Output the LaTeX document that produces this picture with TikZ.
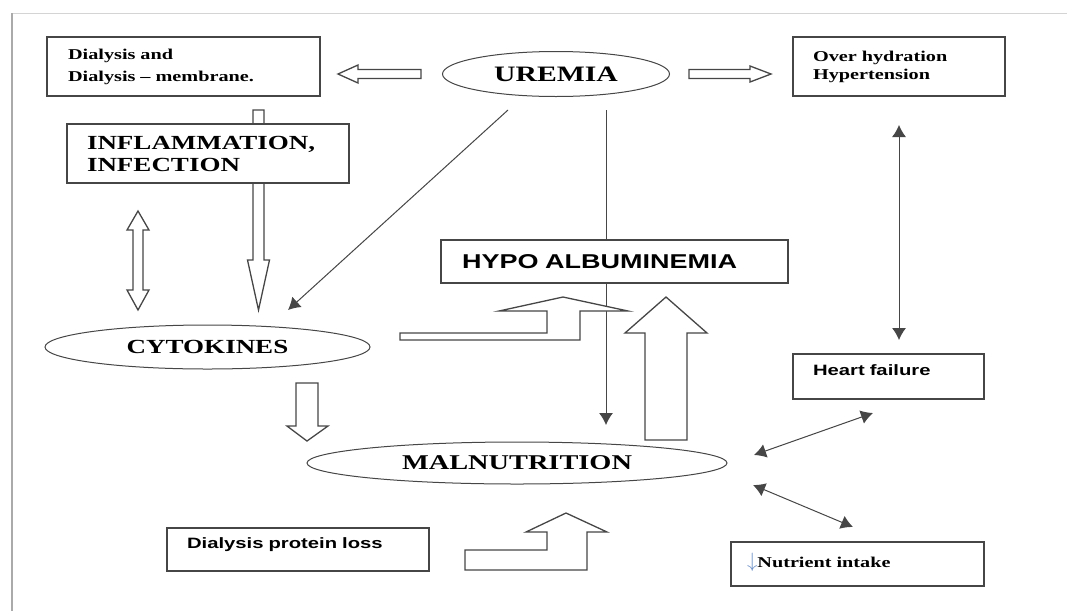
\documentclass[tikz,border=0pt]{standalone}
\usepackage{fontspec}
\newfontfamily\serifbold{Liberation Serif}[FakeStretch=1.35,Ligatures=TeX]
\newfontfamily\sansbold{Liberation Sans}[FakeStretch=1.35,Ligatures=TeX]
\usetikzlibrary{arrows.meta,shapes.geometric,positioning}
\tikzset{>={Latex[length=12pt,width=14pt]}}
\definecolor{linegray}{RGB}{70,70,70}
\definecolor{framegray}{RGB}{170,170,170}
\definecolor{downblue}{RGB}{110,145,200}
\tikzset{
  box/.style={draw=linegray, line width=1.6pt, fill=white, align=left, inner ysep=0pt},
  oval/.style={ellipse, draw=linegray, line width=1pt, fill=white, inner sep=0pt},
  blockarrow/.style={draw=linegray, line width=1.3pt, fill=white, line join=miter},
  thinarrow/.style={draw=linegray, line width=1pt},
  bigserif/.style={font=\serifbold\bfseries\fontsize{20}{22}\selectfont},
  smallserif/.style={font=\serifbold\bfseries\fontsize{15}{22}\selectfont},
  smallsans/.style={font=\sansbold\bfseries\fontsize{15}{18}\selectfont},
}

\begin{document}
\begin{tikzpicture}[x=1pt,y=-1pt]
\useasboundingbox (0,0) rectangle (1067,611);
% page frame
\draw[framegray!50, line width=1pt] (12,13) -- (1067,13);
\draw[framegray, line width=2pt] (12,13) -- (12,611);

% long block arrow behind the inflammation box
\draw[blockarrow] (253,110) -- (264,110) -- (264,260) -- (269.5,260) -- (258.5,310) -- (247.5,260) -- (253,260) -- cycle;
% thin line behind the hypo albuminemia box
\coordinate (u2) at (606,110);
\coordinate (m2) at (606,425);
\draw[thinarrow,->] (u2) -- (m2);

% boxes and ovals
\node[box, smallserif, text width=231pt, inner xsep=21pt, minimum height=59pt] (dial) at (183.5,66.5)
  {Dialysis and\\Dialysis – membrane.};
\node[oval, minimum width=227pt, minimum height=45pt, font=\serifbold\bfseries\fontsize{22}{24}\selectfont] (uremia) at (556,74) {UREMIA};
\node[box, font=\serifbold\bfseries\fontsize{15}{18}\selectfont, text width=172pt, inner xsep=20pt, minimum height=59pt] (hyper) at (899,66.5)
  {Over hydration\\Hypertension};
\node[box, bigserif, text width=242pt, inner xsep=20pt, minimum height=59pt] (inflam) at (208,153.5)
  {INFLAMMATION,\\INFECTION};
\node[box, font=\sansbold\bfseries\fontsize{20}{22}\selectfont, text width=305pt, inner xsep=21pt, minimum height=43pt] (hypo) at (614.5,261.5)
  {HYPO ALBUMINEMIA};
\node[oval, bigserif, minimum width=325pt, minimum height=44pt] (cyto) at (207.5,347) {CYTOKINES};
\node[box, smallsans, text width=151pt, inner xsep=20pt, minimum height=45pt, text depth=12pt] (heart) at (888.5,376.5)
  {Heart failure};
\node[oval, font=\serifbold\bfseries\fontsize{21}{24}\selectfont, minimum width=420pt, minimum height=42pt] (malnu) at (517,463) {MALNUTRITION};
\node[box, smallsans, text width=222pt, inner xsep=20pt, minimum height=43pt, text depth=12.5pt] (loss) at (298,549.5)
  {Dialysis protein loss};
\node[box, smallserif, text width=221pt, inner xsep=16pt, minimum height=44pt, text depth=8pt] (intake) at (857.5,564)
  {{\color{downblue}\fontsize{20}{20}\selectfont$\downarrow$}Nutrient intake};

% block arrows
\draw[blockarrow] (421,69.5) -- (358,69.5) -- (358,65) -- (338,74) -- (358,83) -- (358,78.5) -- (421,78.5) -- cycle;
\draw[blockarrow] (689,69.5) -- (750,69.5) -- (750,66) -- (771,74) -- (750,82) -- (750,78.5) -- (689,78.5) -- cycle;
\draw[blockarrow] (133,230) -- (127,230) -- (138,211) -- (149,230) -- (143,230) -- (143,290) -- (149,290) -- (138,310) -- (127,290) -- (133,290) -- cycle;
\draw[blockarrow] (296,383) -- (318,383) -- (318,426) -- (328,426) -- (307,441) -- (287,426) -- (296,426) -- cycle;
\draw[blockarrow] (645,440) -- (645,333) -- (625,333) -- (666,297) -- (707,333) -- (687,333) -- (687,440) -- cycle;
\draw[blockarrow] (400,333) -- (547,333) -- (547,311) -- (499,311) -- (563,297) -- (628,311) -- (580,311) -- (580,340) -- (400,340) -- cycle;
\draw[blockarrow] (465,570) -- (465,550) -- (547,550) -- (547,532) -- (526,532) -- (566,513) -- (607,532) -- (587,532) -- (587,570) -- cycle;
\draw[thinarrow] (606,283) -- (606,300);

% thin arrows
\coordinate (u1) at (508,110);
\coordinate (c1) at (288,310);
\draw[thinarrow,->] (u1) -- (c1);
\coordinate (h1) at (899,125);
\coordinate (h2) at (899,340);
\draw[thinarrow,<->] (h1) -- (h2);
\coordinate (m3) at (754,455);
\coordinate (f1) at (873,413);
\draw[thinarrow,<->] (m3) -- (f1);
\coordinate (m4) at (753,485);
\coordinate (n1) at (853,527);
\draw[thinarrow,<->] (m4) -- (n1);
\end{tikzpicture}
\end{document}
